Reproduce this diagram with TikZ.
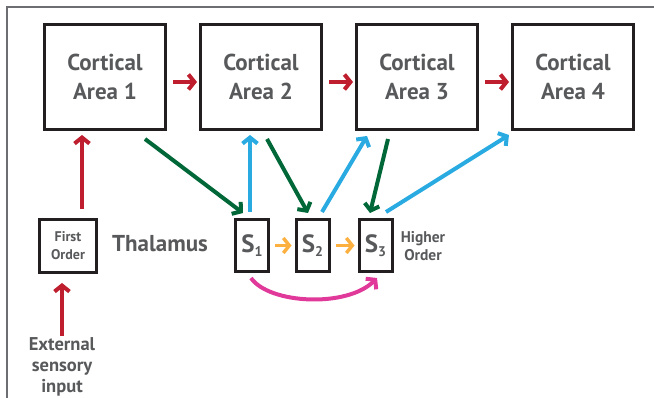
\documentclass[tikz,border=0pt]{standalone}
\usepackage{fontspec}
\setmainfont{PT Sans}
\usetikzlibrary{arrows.meta,calc}
\definecolor{txt}{HTML}{58595B}
\definecolor{boxc}{HTML}{231F20}
\definecolor{fr}{HTML}{6D6E71}
\definecolor{cred}{HTML}{BE1E2D}
\definecolor{cgreen}{HTML}{006838}
\definecolor{cblue}{HTML}{29ABE2}
\definecolor{corange}{HTML}{FBB040}
\definecolor{cmag}{HTML}{E0399A}
\begin{document}
\begin{tikzpicture}[x=1pt,y=-1pt,
  cbox/.style={draw=boxc, line width=3pt, minimum width=121pt, minimum height=105pt,
    inner sep=0pt, text=txt, align=center, font=\fontsize{23}{29}\selectfont\bfseries},
  sbox/.style={draw=boxc, line width=3pt, minimum width=33pt, minimum height=52pt,
    inner sep=0pt, text=txt, font=\fontsize{25}{25}\selectfont\bfseries},
  fobox/.style={draw=boxc, line width=3pt, minimum width=57pt, minimum height=53pt,
    inner sep=0pt, text=txt, align=center, font=\fontsize{14}{18}\selectfont\bfseries},
  lbl/.style={inner sep=0pt, text=txt, align=center},
  arr/.style={line width=4pt, -{Straight Barb[length=6pt,width=15pt]}},
  redarr/.style={arr, draw=cred},
  grarr/.style={arr, draw=cgreen},
  blarr/.style={arr, draw=cblue},
  orarr/.style={arr, draw=corange, line width=3.4pt},
  magarr/.style={arr, draw=cmag}
]
\useasboundingbox (0,0) rectangle (654,398);
\draw[fr, line width=1.2pt] (7,398) -- (7,7) -- (654,7);

\node[cbox] (c1) at (105,77) {Cortical\\Area 1};
\node[cbox] (c2) at (261,77) {Cortical\\Area 2};
\node[cbox] (c3) at (417,77) {Cortical\\Area 3};
\node[cbox] (c4) at (573,77) {Cortical\\Area 4};

\node[fobox] (fo) at (68,246) {First\\Order};
\node[lbl, font=\fontsize{23}{23}\selectfont\bfseries] (thal) at (160,244) {Thalamus};

\newcommand{\subn}[1]{S\raisebox{-4.5pt}{\fontsize{14}{14}\selectfont #1}}
\node[sbox] (s1) at (252,245.5) {\subn{1}};
\node[sbox] (s2) at (312.5,245.5) {\subn{2}};
\node[sbox] (s3) at (375.5,245.5) {\subn{3}};
\node[lbl, font=\fontsize{15.5}{18}\selectfont\bfseries] (ho) at (423,246) {Higher\\Order};

\node[lbl, anchor=north, font=\fontsize{18.5}{21}\selectfont\bfseries] (ext) at (62,337) {External\\sensory\\input};

% red
\draw[redarr] ([yshift=1pt]ext.north) -- ([xshift=-6pt,yshift=-9pt]fo.south);
\draw[redarr] ([xshift=14pt,yshift=9pt]fo.north) -- ([xshift=-23pt,yshift=-4pt]c1.south);
\draw[redarr] ([xshift=6pt,yshift=-5pt]c1.east) -- ([xshift=-2pt,yshift=-5pt]c2.west);
\draw[redarr] ([xshift=6pt,yshift=-5pt]c2.east) -- ([xshift=-2pt,yshift=-5pt]c3.west);
\draw[redarr] ([xshift=6pt,yshift=-5pt]c3.east) -- ([xshift=-2pt,yshift=-5pt]c4.west);

% green
\draw[grarr] ([xshift=-22pt,yshift=-8pt]c1.south east) -- ([xshift=-9pt,yshift=5pt]s1.north);
\draw[grarr] ([xshift=6pt,yshift=-8pt]c2.south) -- ([xshift=-4.5pt,yshift=5pt]s2.north);
\draw[grarr] ([xshift=-29pt,yshift=-8pt]c3.south) -- ([xshift=-5.5pt,yshift=5pt]s3.north);

% blue
\draw[blarr] ([xshift=-2pt,yshift=6pt]s1.north) -- ([xshift=-11pt,yshift=-4pt]c2.south);
\draw[blarr] ([xshift=9.5pt,yshift=6pt]s2.north) -- ([xshift=12pt,yshift=-5pt]c3.south west);
\draw[blarr] ([xshift=10.5pt,yshift=6pt]s3.north) -- ([xshift=-2pt,yshift=-4pt]c4.south west);

% orange
\draw[orarr] ([xshift=5pt]s1.east) -- ([xshift=-3pt]s2.west);
\draw[orarr] ([xshift=5pt]s2.east) -- ([xshift=-3pt]s3.west);

% magenta
\draw[magarr] ([xshift=-1pt,yshift=-5pt]s1.south) .. controls +(18,26) and +(-30,30) .. ([xshift=1.5pt,yshift=-5pt]s3.south);
\end{tikzpicture}
\end{document}
